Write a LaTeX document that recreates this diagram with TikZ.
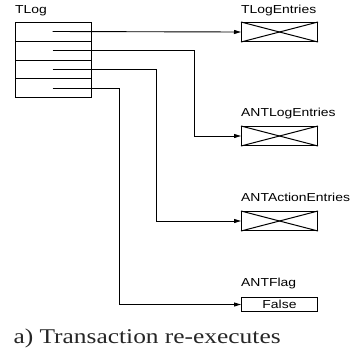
\documentclass[tikz,border=0pt]{standalone}
\usepackage{fontspec}
\usetikzlibrary{arrows.meta}
\newfontfamily\labfont{Liberation Sans}[FakeStretch=1.2]
\newfontfamily\captfont{Liberation Serif}[FakeStretch=1.21]
\begin{document}
\begin{tikzpicture}[x=1pt,y=-1pt,
  lw/.style={line width=1pt},
  row/.style={draw,lw,minimum width=76pt,minimum height=18.75pt,inner sep=0pt,anchor=north west},
  obj/.style={draw,lw,minimum width=76pt,minimum height=19pt,inner sep=0pt,anchor=north west},
  flagbox/.style={draw,lw,minimum width=76pt,minimum height=14pt,inner sep=0pt,anchor=north west,font=\labfont\fontsize{11.6}{13}\selectfont},
  lab/.style={anchor=base west,inner sep=0pt,font=\labfont\fontsize{11.6}{13}\selectfont},
  conn/.style={line width=0.9pt,-{Triangle[length=7pt,width=4pt]}}]
\useasboundingbox (0,0) rectangle (354,357);
% TLog structure
\node[lab] (tloglab) at (15,13.3) {TLog};
\node[row] (r1) at (15,22) {};
\node[row] (r2) at (15,40.75) {};
\node[row] (r3) at (15,59.5) {};
\node[row] (r4) at (15,78.25) {};
\coordinate (p1) at (52.7,31.5);
\coordinate (p2) at (52.7,50.2);
\coordinate (p3) at (52.7,69.2);
\coordinate (p4) at (52.7,88);
\coordinate (k2) at (194.3,50.2);
\coordinate (k3) at (156.7,69.2);
\coordinate (k4) at (119,88);
% targets
\node[obj] (tle) at (241,22) {};
\node[lab] (tlelab) at (241,13.3) {TLogEntries};
\node[obj] (ale) at (241,126) {};
\node[lab] (alelab) at (241,116.2) {ANTLogEntries};
\node[obj] (aae) at (241,211) {};
\node[lab] (aaelab) at (241,201.2) {ANTActionEntries};
\node[flagbox] (flag) at (241,297) {False};
\node[lab] (flaglab) at (241,286.7) {ANTFlag};
\foreach \n in {tle,ale,aae}{
  \draw[lw] (\n.north west) -- (\n.south east);
  \draw[lw] (\n.south west) -- (\n.north east);
}
% connectors
\draw[conn] (p1) -- (tle.west);
\draw[conn] (p2) -- (k2) |- (ale.west);
\draw[conn] (p3) -- (k3) |- (aae.west);
\draw[conn] (p4) -- (k4) |- (flag.west);
% caption
\node[anchor=base west,inner sep=0pt,font=\captfont\fontsize{21}{24}\selectfont,text=black!85] (cap) at (13.3,343.5) {a) Transaction re-executes};
\end{tikzpicture}
\end{document}
